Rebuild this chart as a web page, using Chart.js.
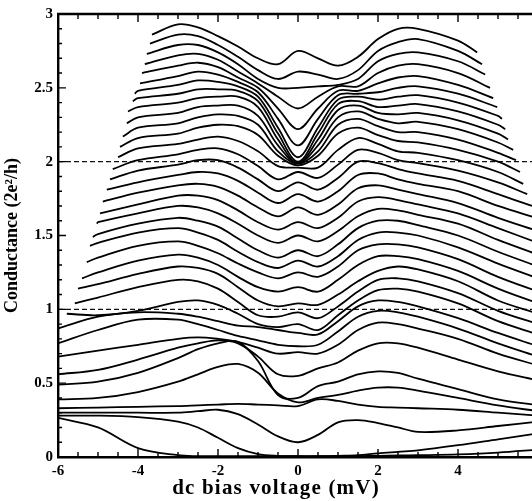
<!DOCTYPE html>
<html>
<head>
<meta charset="utf-8">
<script src="https://cdn.jsdelivr.net/npm/chart.js@4.4.1/dist/chart.umd.min.js"></script>
<style>
  html, body { margin: 0; padding: 0; background: #fff; overflow: hidden; width: 532px; height: 501px; }
  #wrap { position: relative; width: 560px; height: 501px; }
</style>
</head>
<body>
<div id="wrap"><canvas id="chart" width="560" height="501"></canvas></div>
<script>
// bias grid (mV) shared by all sweeps
const biasGrid = [-6, -5, -4, -3, -2.5, -2, -1.5, -1, -0.5, 0, 0.5, 1, 1.5, 2, 2.5, 3, 4, 5, 6];
const n = null;

// conductance (2e^2/h) of each sweep on the grid, top to bottom
const t01 = [n, n, n, 2.93, 2.91, 2.85, 2.78, 2.70, 2.66, 2.75, 2.70, 2.65, 2.71, 2.83, 2.90, 2.90, 2.82, n, n];
const t02 = [n, n, n, 2.86, 2.85, 2.79, 2.71, 2.62, 2.56, 2.61, 2.59, 2.56, 2.62, 2.75, 2.81, 2.83, 2.75, n, n];
const t03 = [n, n, n, 2.79, 2.79, 2.74, 2.66, 2.56, 2.50, 2.50, 2.51, 2.52, 2.56, 2.68, 2.73, 2.74, 2.68, n, n];
const t04 = [n, n, n, 2.72, 2.73, 2.69, 2.61, 2.53, 2.44, 2.36, 2.44, 2.51, 2.51, 2.60, 2.65, 2.66, 2.60, n, n];
const t05 = [n, n, n, 2.65, 2.67, 2.64, 2.57, 2.50, 2.36, 2.22, 2.36, 2.48, 2.48, 2.53, 2.57, 2.58, 2.52, n, n];
const t06 = [n, n, n, 2.58, 2.61, 2.59, 2.54, 2.47, 2.29, 2.11, 2.29, 2.45, 2.46, 2.47, 2.50, 2.51, 2.46, n, n];
const t07 = [n, n, 2.48, 2.52, 2.55, 2.54, 2.51, 2.44, 2.23, 2.03, 2.23, 2.42, 2.44, 2.42, 2.44, 2.45, 2.40, 2.31, n];
const t08 = [n, n, 2.43, 2.46, 2.49, 2.49, 2.48, 2.41, 2.19, 2.00, 2.19, 2.39, 2.41, 2.37, 2.38, 2.39, 2.34, 2.25, n];
const t09 = [n, n, 2.37, 2.40, 2.43, 2.44, 2.44, 2.37, 2.15, 1.99, 2.15, 2.35, 2.38, 2.33, 2.32, 2.33, 2.28, 2.19, n];
const t10 = [n, n, 2.30, 2.33, 2.37, 2.38, 2.38, 2.31, 2.11, 1.99, 2.11, 2.30, 2.34, 2.29, 2.26, 2.27, 2.22, 2.13, n];
const t11 = [n, n, 2.23, 2.26, 2.30, 2.32, 2.31, 2.25, 2.07, 1.985, 2.07, 2.25, 2.29, 2.24, 2.20, 2.20, 2.15, 2.06, n];
const t12 = [n, n, 2.16, 2.19, 2.23, 2.25, 2.24, 2.18, 2.04, 1.975, 2.04, 2.19, 2.23, 2.18, 2.14, 2.13, 2.08, 2.00, n];
const t13 = [n, n, 2.09, 2.12, 2.15, 2.17, 2.14, 2.07, 1.97, 1.96, 1.96, 2.08, 2.16, 2.12, 2.07, 2.06, 2.01, 1.93, n];
const t14 = [n, n, 2.01, 2.05, 2.08, 2.09, 2.05, 1.97, 1.88, 1.93, 1.89, 1.98, 2.08, 2.06, 2.01, 1.99, 1.94, 1.86, n];
const t15 = [n, n, 1.94, 1.98, 2.01, 2.01, 1.96, 1.88, 1.80, 1.86, 1.81, 1.89, 2.00, 1.99, 1.95, 1.92, 1.87, 1.78, n];
const t16 = [n, n, 1.86, 1.91, 1.93, 1.92, 1.87, 1.79, 1.72, 1.78, 1.73, 1.80, 1.91, 1.92, 1.88, 1.85, 1.80, 1.70, n];
const t17 = [n, n, 1.79, 1.84, 1.85, 1.83, 1.77, 1.69, 1.63, 1.69, 1.64, 1.71, 1.82, 1.84, 1.81, 1.78, 1.72, 1.62, 1.53];
const t18 = [n, n, 1.71, 1.77, 1.77, 1.74, 1.67, 1.59, 1.54, 1.59, 1.55, 1.62, 1.73, 1.76, 1.74, 1.71, 1.65, 1.55, 1.45];
const t19 = [n, 1.59, 1.65, 1.70, 1.69, 1.65, 1.58, 1.50, 1.45, 1.50, 1.46, 1.53, 1.63, 1.68, 1.67, 1.64, 1.58, 1.47, 1.37];
const t20 = [n, 1.51, 1.58, 1.62, 1.60, 1.56, 1.48, 1.40, 1.35, 1.40, 1.36, 1.44, 1.55, 1.60, 1.60, 1.57, 1.50, 1.39, 1.29];
const t21 = [n, 1.45, 1.52, 1.55, 1.52, 1.47, 1.39, 1.32, 1.28, 1.33, 1.29, 1.36, 1.47, 1.52, 1.52, 1.50, 1.42, 1.31, 1.21];
const t22 = [n, 1.35, 1.43, 1.46, 1.43, 1.38, 1.31, 1.25, 1.21, 1.25, 1.22, 1.29, 1.40, 1.44, 1.44, 1.42, 1.34, 1.22, 1.12];
const t23 = [n, 1.25, 1.33, 1.37, 1.35, 1.30, 1.22, 1.15, 1.12, 1.15, 1.12, 1.20, 1.30, 1.36, 1.36, 1.34, 1.26, 1.14, 1.04];
const t24 = [n, 1.17, 1.24, 1.29, 1.28, 1.24, 1.15, 1.06, 1.02, 1.04, 1.03, 1.10, 1.19, 1.26, 1.29, 1.27, 1.19, 1.06, 0.97];
const t25 = [n, 1.08, 1.15, 1.20, 1.19, 1.14, 1.05, 0.96, 0.95, 0.98, 0.94, 1.02, 1.12, 1.20, 1.21, 1.19, 1.11, 0.99, 0.90];
const t26 = [n, 0.96, 0.99, 1.05, 1.06, 1.03, 0.97, 0.90, 0.88, 0.90, 0.86, 0.96, 1.06, 1.13, 1.14, 1.12, 1.04, 0.92, 0.83];
const t27 = [0.87, 0.95, 0.98, 0.97, 0.95, 0.92, 0.89, 0.88, 0.86, 0.84, 0.83, 0.92, 1.02, 1.06, 1.05, 1.02, 0.94, 0.84, 0.75];
const t28 = [0.77, 0.86, 0.93, 0.93, 0.90, 0.86, 0.82, 0.79, 0.76, 0.75, 0.76, 0.85, 0.95, 0.99, 0.98, 0.95, 0.87, 0.77, 0.68];
const t29 = [0.68, 0.72, 0.76, 0.80, 0.81, 0.80, 0.78, 0.74, 0.70, 0.71, 0.70, 0.76, 0.86, 0.91, 0.90, 0.87, 0.80, 0.70, 0.62];
const t30 = [0.56, 0.59, 0.66, 0.74, 0.77, 0.79, 0.77, 0.68, 0.56, 0.55, 0.60, 0.64, 0.72, 0.77, 0.77, 0.74, 0.66, 0.58, 0.52];
const t31 = [0.49, 0.51, 0.57, 0.67, 0.73, 0.77, 0.78, 0.65, 0.42, 0.40, 0.48, 0.51, 0.56, 0.58, 0.57, 0.53, 0.46, 0.39, 0.35];
const t32 = [0.39, 0.40, 0.44, 0.51, 0.56, 0.61, 0.63, 0.57, 0.43, 0.37, 0.40, 0.42, 0.45, 0.47, 0.47, 0.45, 0.40, 0.35, 0.31];
const t33 = [0.33, 0.335, 0.34, 0.345, 0.35, 0.355, 0.36, 0.355, 0.35, 0.345, 0.39, 0.38, 0.355, 0.34, 0.335, 0.33, 0.32, 0.30, 0.28];
const t34 = [0.30, 0.30, 0.30, 0.30, 0.31, 0.32, 0.29, 0.22, 0.14, 0.10, 0.15, 0.235, 0.25, 0.23, 0.20, 0.17, 0.18, 0.21, 0.24];
const t35 = [0.28, 0.28, 0.27, 0.24, 0.20, 0.13, 0.06, 0.02, 0.008, 0.005, 0.005, 0.008, 0.012, 0.025, 0.035, 0.045, 0.08, 0.12, 0.16];
const t36 = [0.265, 0.20, 0.06, 0.012, 0.006, 0.005, 0.005, 0.005, 0.005, 0.005, 0.005, 0.005, 0.006, 0.008, 0.01, 0.012, 0.018, 0.03, 0.05];

// where the truncated sweeps begin and end (bias mV, conductance)
const startBias = [-3.65, -3.70, -3.78, -3.83, -3.90, -3.95, -4.08, -4.13, -4.25, -4.28, -4.38, -4.45, -4.50,
                   -4.63, -4.70, -4.78, -4.88, -4.95, -5.03, -5.13, -5.20, -5.28, -5.40, -5.50, -5.58, -5.78];
const startG    = [2.86, 2.80, 2.73, 2.66, 2.60, 2.53, 2.46, 2.41, 2.34, 2.26, 2.17, 2.10, 2.03,
                   1.95, 1.88, 1.81, 1.73, 1.65, 1.58, 1.49, 1.43, 1.32, 1.21, 1.14, 1.04, 0.97];
const endBias   = [4.48, 4.60, 4.68, 4.80, 4.88, 4.98, 5.10, 5.18, 5.25, 5.38, 5.45, 5.55, 5.63, 5.73, 5.85, 5.95];
const endG      = [2.74, 2.66, 2.59, 2.50, 2.43, 2.37, 2.29, 2.22, 2.15, 2.08, 2.01, 1.93, 1.85, 1.78, 1.70, 1.62];

// dashed reference levels
const refLevels = [1, 2];

const traces = [t01, t02, t03, t04, t05, t06, t07, t08, t09, t10, t11, t12, t13, t14, t15, t16, t17, t18,
                t19, t20, t21, t22, t23, t24, t25, t26, t27, t28, t29, t30, t31, t32, t33, t34, t35, t36];

const datasets = traces.map((vals, i) => {
  const pts = [];
  if (startBias[i] !== undefined) pts.push({ x: startBias[i], y: startG[i] });
  biasGrid.forEach((b, j) => {
    if (vals[j] !== null) pts.push({ x: b, y: vals[j] });
  });
  if (endBias[i] !== undefined) pts.push({ x: endBias[i], y: endG[i] });
  return {
    data: pts,
    borderColor: "#000",
    borderWidth: 1.8,
    pointRadius: 0,
    tension: 0.35,
    fill: false
  };
});

refLevels.forEach(level => {
  datasets.push({
    data: [{ x: -6, y: level }, { x: 6, y: level }],
    borderColor: "#111",
    borderWidth: 1.2,
    borderDash: [5, 3],
    pointRadius: 0,
    fill: false
  });
});

const serif = "'Liberation Serif', 'DejaVu Serif', serif";

// inward ticks on the frame, top border and x axis title
const frameTicks = {
  id: "frameTicks",
  afterDraw(chart) {
    const { ctx, chartArea: a, scales: { x, y } } = chart;
    ctx.save();
    ctx.strokeStyle = "#000";
    ctx.lineWidth = 2.4;
    ctx.beginPath();
    ctx.moveTo(a.left - 1, a.top);
    ctx.lineTo(a.right, a.top);
    ctx.stroke();
    ctx.lineWidth = 1.4;
    ctx.beginPath();
    for (let i = 0; i <= 24; i++) {
      const px = x.getPixelForValue(-6 + i * 0.5);
      const len = i % 4 === 0 ? 8 : 5;
      ctx.moveTo(px, a.bottom);
      ctx.lineTo(px, a.bottom - len);
      ctx.moveTo(px, a.top);
      ctx.lineTo(px, a.top + len);
    }
    for (let i = 0; i <= 30; i++) {
      const py = y.getPixelForValue(i * 0.1);
      const len = i % 5 === 0 ? 8 : 4;
      ctx.moveTo(a.left, py);
      ctx.lineTo(a.left + len, py);
    }
    ctx.stroke();
    ctx.fillStyle = "#000";
    ctx.font = "bold 21px " + serif;
    ctx.letterSpacing = "1.2px";
    ctx.textAlign = "center";
    ctx.textBaseline = "middle";
    ctx.fillText("dc bias voltage (mV)", 276, 489);
    ctx.restore();
  }
};

new Chart(document.getElementById("chart"), {
  type: "line",
  data: { datasets },
  options: {
    responsive: false,
    animation: false,
    devicePixelRatio: 1,
    layout: { padding: { left: 0, top: 12, right: 22, bottom: 0 } },
    plugins: { legend: { display: false }, tooltip: { enabled: false } },
    scales: {
      x: {
        type: "linear",
        min: -6,
        max: 6,
        afterFit: s => { s.height = 44; },
        ticks: { stepSize: 2, color: "#000", padding: 5, font: { family: serif, size: 15, weight: "bold" } },
        grid: { display: false, drawTicks: false },
        border: { display: true, color: "#000", width: 2.4 }
      },
      y: {
        min: 0,
        max: 3,
        afterFit: s => { s.width = 58; },
        ticks: {
          stepSize: 0.5, color: "#000", padding: 5,
          font: { family: serif, size: 15, weight: "bold" },
          callback: v => String(Math.round(v * 10) / 10)
        },
        grid: { display: false, drawTicks: false },
        border: { display: true, color: "#000", width: 2.4 },
        title: { display: true, text: "Conductance (2e\u00B2/h)", color: "#000", padding: { top: 2, bottom: 0 },
                 font: { family: serif, size: 18, weight: "bold" } }
      }
    }
  },
  plugins: [frameTicks]
});
</script>
</body>
</html>
